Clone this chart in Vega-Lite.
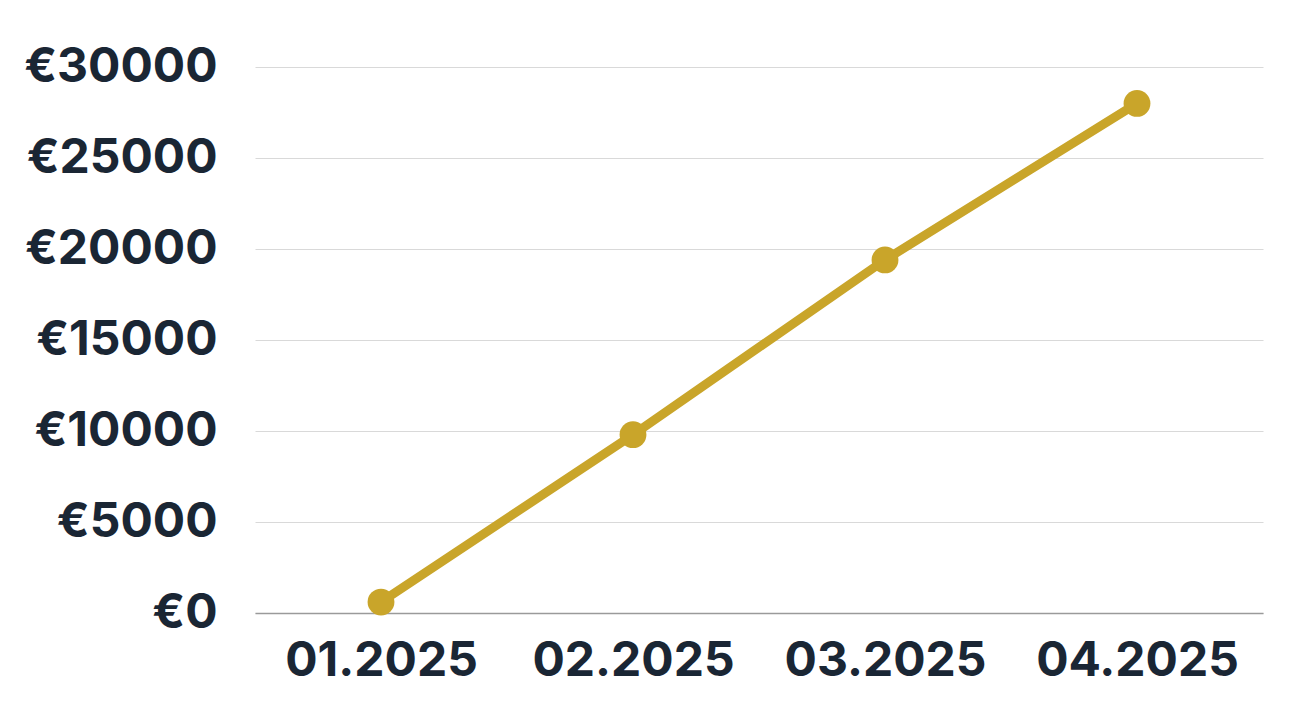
{
  "$schema": "https://vega.github.io/schema/vega-lite/v6.json",
  "autosize": {"type": "none"},
  "padding": {"left": 255, "top": 67, "right": 34, "bottom": 100},
  "width": 1008,
  "height": 546,
  "background": "white",
  "data": {
    "values": [
      {"month": "01.2025", "amount": 600},
      {"month": "02.2025", "amount": 9800},
      {"month": "03.2025", "amount": 19400},
      {"month": "04.2025", "amount": 28000}
    ]
  },
  "encoding": {
    "x": {
      "field": "month",
      "type": "ordinal",
      "title": null,
      "axis": {
        "labelAngle": 0,
        "ticks": false,
        "domainColor": "#9a9a9a",
        "domainWidth": 1.5,
        "labelPadding": 24,
        "labelLimit": 0,
        "labelFont": "Inter",
        "labelFontWeight": "bold",
        "labelFontSize": 48,
        "labelColor": "#1a2634",
        "grid": false
      }
    },
    "y": {
      "field": "amount",
      "type": "quantitative",
      "title": null,
      "scale": {"domain": [0, 30000], "nice": false},
      "axis": {
        "values": [0, 5000, 10000, 15000, 20000, 25000, 30000],
        "labelExpr": "'€' + datum.value",
        "domain": false,
        "ticks": false,
        "gridColor": "#d9d9d9",
        "gridWidth": 1,
        "labelPadding": 38,
        "labelLimit": 0,
        "labelFont": "Inter",
        "labelFontWeight": "bold",
        "labelFontSize": 48,
        "labelColor": "#1a2634"
      }
    }
  },
  "layer": [
    {"mark": {"type": "line", "color": "#c9a52a", "strokeWidth": 9}},
    {"mark": {"type": "point", "filled": true, "color": "#c9a52a", "opacity": 1, "size": 720}}
  ],
  "config": {"view": {"stroke": null}}
}
